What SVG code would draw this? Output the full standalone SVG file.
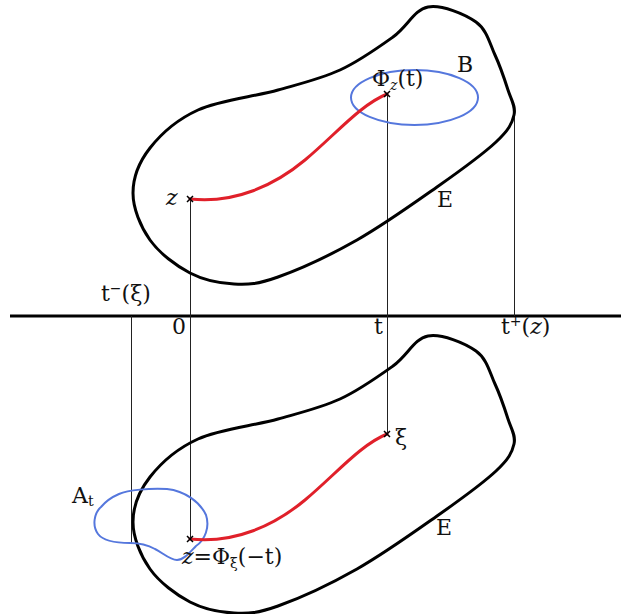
<svg xmlns="http://www.w3.org/2000/svg" width="621" height="614" viewBox="0 0 621 614">
<style>
.blob{fill:none;stroke:#000;stroke-width:3;stroke-linejoin:round}
.blue{fill:none;stroke:#5577dd;stroke-width:2}
.red{fill:none;stroke:#e0202a;stroke-width:3;stroke-linecap:round}
.thin{stroke:#222;stroke-width:1}
.mk{stroke:#000;stroke-width:1.5}
text{font-family:"DejaVu Serif","Liberation Serif",serif;font-size:22px;fill:#111}
.it{font-style:italic}
</style>
<defs>
<path id="blobShape" d="M428,7 C441.8,4.5 464.8,14 476,22 C487.2,30 489.7,43.7 495,55 C500.3,66.3 504.8,80 508,90 C511.2,100 516,106.3 514,115 C512,123.7 508.8,130 496,142 C483.2,154 460.2,170.7 437,187 C413.8,203.3 383.5,225 357,240 C330.5,255 298.5,269.7 278,277 C257.5,284.3 248.7,284.7 234,284 C219.3,283.3 204,280.3 190,273 C176,265.7 159.5,253.3 150,240 C140.5,226.7 133,208.3 133,193 C133,177.7 139.2,161.8 150,148 C160.8,134.2 176.7,119.7 198,110 C219.3,100.3 254.3,96.7 278,90 C301.7,83.3 320.8,78.8 340,70 C359.2,61.2 378.3,47.5 393,37 C407.7,26.5 414.2,9.5 428,7 Z"/>
<path id="cross" d="M-3,-3 L3,3 M-3,3 L3,-3"/>
</defs>
<g id="axis"><line x1="10" y1="316" x2="621" y2="316" stroke="#000" stroke-width="3"/></g>
<g id="connectors">
<line class="thin" x1="190.5" y1="199" x2="190.5" y2="540"/>
<line class="thin" x1="387.5" y1="94" x2="387.5" y2="434"/>
<line class="thin" x1="514.5" y1="115" x2="514.5" y2="316"/>
<line class="thin" x1="131.5" y1="316" x2="131.5" y2="543"/>
</g>
<g id="top-E">
<use href="#blobShape" class="blob"/>
<text x="437" y="207">E</text>
</g>
<g id="B">
<ellipse class="blue" cx="414.5" cy="97.5" rx="63.5" ry="27.5"/>
<text x="457" y="72">B</text>
</g>
<g id="top-orbit">
<path class="red" d="M190,199 C235,204 275,185 305,160 C335,135 360,105 387,94"/>
<use href="#cross" x="190" y="199" class="mk"/>
<use href="#cross" x="387" y="94" class="mk"/>
<text x="166" y="205" class="it">z</text>
<text x="372" y="86">Φ<tspan class="it" font-size="14" dy="4">z</tspan><tspan dy="-4">(t)</tspan></text>
</g>
<g id="bottom-E">
<use href="#blobShape" class="blob" transform="translate(0,329)"/>
<text x="436" y="535">E</text>
</g>
<g id="A">
<path class="blue" d="M119,494 C128,490 150,488 167,489 C185,491 200,502 206,515 C210,527 205,540 196,546 C190,552 184,560 177,560 C170,560 163,553 155,549 C146,544 138,543 130,543 C118,543 104,542 98,534 C92,526 94,513 101,507 C106,501 112,497 119,494 Z"/>
<text x="72" y="503">A<tspan font-size="14" dy="3">t</tspan></text>
</g>
<g id="bottom-orbit">
<path class="red" d="M190,539 C235,544 275,525 305,500 C335,475 360,445 387,434"/>
<use href="#cross" x="190" y="539" class="mk"/>
<use href="#cross" x="387" y="434" class="mk"/>
<text x="395" y="445">ξ</text>
<text x="182" y="564"><tspan class="it">z</tspan>=Φ<tspan font-size="14" dy="4">ξ</tspan><tspan dy="-4">(−t)</tspan></text>
</g>
<g id="labels">
<text x="101" y="301">t<tspan font-size="14" dy="-8">−</tspan><tspan dy="8">(ξ)</tspan></text>
<text x="172" y="334">0</text>
<text x="374" y="334">t</text>
<text x="501" y="334">t<tspan font-size="14" dy="-8">+</tspan><tspan dy="8">(</tspan><tspan class="it">z</tspan>)</text>
</g>
</svg>
